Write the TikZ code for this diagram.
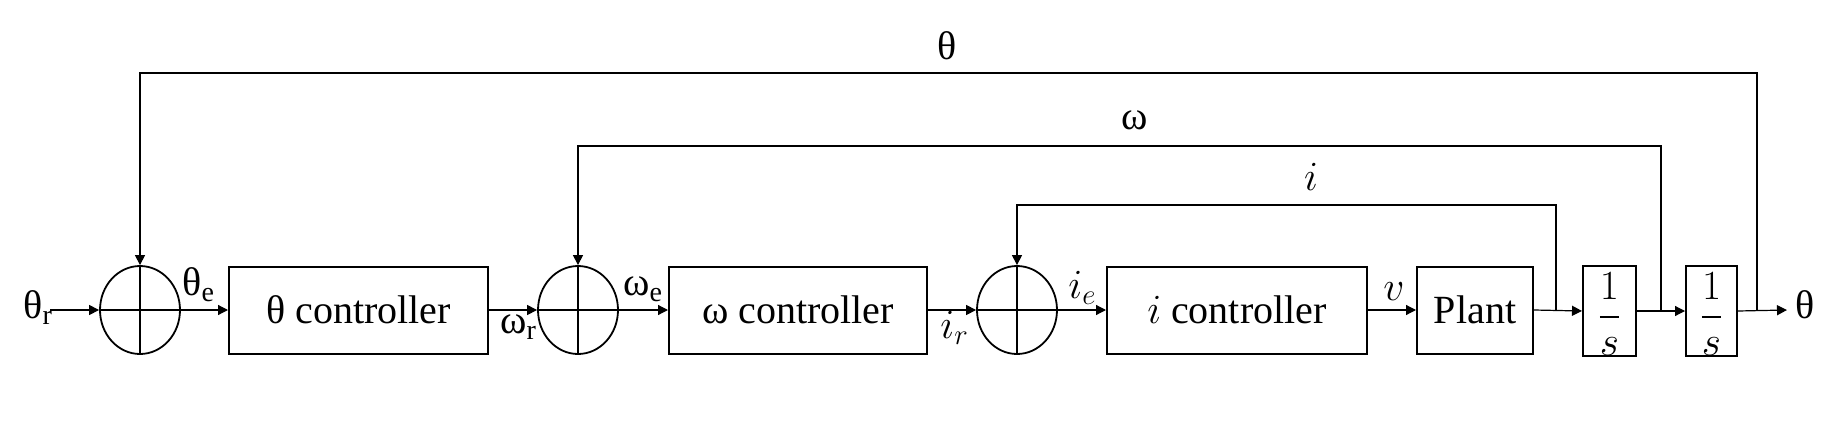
\documentclass[tikz,border=0pt]{standalone}
\usepackage{amsmath}
\usepackage{fontspec}
\setmainfont{Liberation Serif}
\usetikzlibrary{arrows.meta,shapes.geometric}
\begin{document}
\begin{tikzpicture}[x=0.5pt,y=-0.5pt,
  block/.style={draw, line width=1pt, inner sep=0pt, minimum height=43.5pt, font=\fontsize{20}{24}\selectfont},
  intb/.style={draw, line width=1pt, inner sep=0pt, text height=30.75pt, text depth=14.25pt, font=\fontsize{21}{24}\selectfont},
  sumj/.style={draw, ellipse, line width=0.9pt, minimum width=40pt, minimum height=44pt, inner sep=0pt},
  arr/.style={-{Triangle[length=5pt,width=5pt]}, line width=0.6pt},
  lbl/.style={font=\fontsize{20}{24}\selectfont, inner sep=0pt}]
\useasboundingbox (0,0) rectangle (1844,429);

% summing junctions
\node[sumj] (s1) at (140,310) {};
\node[sumj] (s2) at (578,310) {};
\node[sumj] (s3) at (1017,310) {};
\foreach \s in {s1,s2,s3}{
  \draw[line width=0.8pt] (\s.north) -- (\s.south);
  \draw[line width=0.8pt] (\s.west) -- (\s.east);
}

% blocks
\node[block, minimum width=129.5pt] (b1) at (358.5,310) {θ controller};
\node[block, minimum width=129pt] (b2) at (798,310) {ω controller};
\node[block, minimum width=130pt] (b3) at (1237,310) {$i$ controller};
\node[block, minimum width=58pt] (pl) at (1475,310) {Plant};
\node[intb, minimum width=26.5pt] (i1) at (1609.5,311) {$\dfrac{1}{s}$};
\node[intb, minimum width=25.5pt] (i2) at (1711.5,311) {$\dfrac{1}{s}$};

% coordinates
\coordinate (in) at (50,310);
\coordinate (bi) at (1556,310);
\coordinate (bw) at (1661,310);
\coordinate (bt) at (1757,310);
\coordinate (out) at (1787,310);
\coordinate (ti) at (1556,205);
\coordinate (tw) at (1661,146);
\coordinate (tt) at (1757,73);

% forward path
\draw[arr] (in) -- (s1.west);
\draw[arr] (s1.east) -- (b1.west);
\draw[arr] (b1.east) -- (s2.west);
\draw[arr] (s2.east) -- (b2.west);
\draw[arr] (b2.east) -- (s3.west);
\draw[arr] (s3.east) -- (b3.west);
\draw[arr] (b3.east) -- (pl.west);
\draw[arr] (pl.east) -- (i1.west);
\draw[arr] (i1.east) -- (i2.west);
\draw[arr] (i2.east) -- (out);

% feedback
\draw[arr] (bi) -- (ti) -| (s3.north);
\draw[arr] (bw) -- (tw) -| (s2.north);
\draw[arr] (bt) -- (tt) -| (s1.north);

% labels
\node[lbl, anchor=base west] (lthr) at (23,318) {θ\textsubscript{r}};
\node[lbl, anchor=base west] (lthe) at (182,295) {θ\textsubscript{e}};
\node[lbl, anchor=base west] (lwr) at (500,333) {ω\textsubscript{r}};
\node[lbl, anchor=base west] (lwe) at (623,295) {ω\textsubscript{e}};
\node[lbl, anchor=base west] (lir) at (940,338) {$i_r$};
\node[lbl, anchor=base west] (lie) at (1068,298) {$i_e$};
\node[lbl, anchor=base west] (lv) at (1383,300) {$v$};
\node[lbl, anchor=base west] (lout) at (1795,318) {θ};
\node[lbl, anchor=base] (lt) at (947,59) {θ};
\node[lbl, anchor=base] (lw) at (1135,129) {ω};
\node[lbl, anchor=base] (li) at (1311,190) {$i$};
\end{tikzpicture}
\end{document}
